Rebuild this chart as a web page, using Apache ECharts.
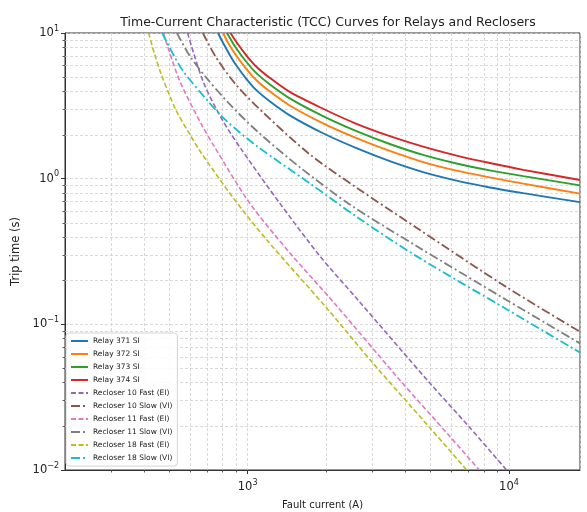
<!DOCTYPE html>
<html><head><meta charset="utf-8">
<script src="https://cdn.jsdelivr.net/npm/echarts@6/dist/echarts.min.js"></script>
<style>html,body{margin:0;padding:0;background:#fff}#c{width:587px;height:512px}</style>
</head><body><div id="c"></div>
<script>
const titleText = 'Time-Current Characteristic (TCC) Curves for Relays and Reclosers';
const xName = 'Fault current (A)';
const yName = 'Trip time (s)';
const X_MIN = 200, X_MAX = 18700, Y_MIN = 0.01, Y_MAX = 10;

const seriesNames = ['Relay 371 SI','Relay 372 SI','Relay 373 SI','Relay 374 SI',
  'Recloser 10 Fast (EI)','Recloser 10 Slow (VI)','Recloser 11 Fast (EI)','Recloser 11 Slow (VI)',
  'Recloser 18 Fast (EI)','Recloser 18 Slow (VI)'];
const seriesColors = ['#1f77b4','#ff7f0e','#2ca02c','#d62728','#9467bd','#8c564b','#e377c2','#7f7f7f','#bcbd22','#17becf'];
const seriesKinds = ['solid','solid','solid','solid','dash','dashdot','dash','dashdot','dash','dashdot'];

// [current (A), trip time (s)]
const relay371 = [[770,10],[804,8.6],[853,7.1],[904,6.0],[988,4.85],[1080,4.05],[1214,3.4],[1449,2.72],[1943,2.05],[2609,1.62],[3499,1.32],[4694,1.11],[6302,0.97],[8453,0.87],[11340,0.795],[18700,0.69]];
const relay372 = [[805,10],[853,8.2],[904,7.0],[988,5.67],[1080,4.74],[1214,3.98],[1449,3.18],[1943,2.4],[2609,1.9],[3499,1.55],[4694,1.3],[6302,1.135],[8453,1.02],[11340,0.925],[18700,0.79]];
const relay373 = [[832,10],[853,9.3],[904,7.86],[988,6.35],[1080,5.3],[1214,4.45],[1449,3.56],[1943,2.69],[2609,2.12],[3499,1.73],[4694,1.455],[6302,1.27],[8453,1.14],[11340,1.04],[18700,0.90]];
const relay374 = [[860,10],[904,8.7],[988,7.03],[1080,5.87],[1214,4.93],[1449,3.94],[1943,3.02],[2609,2.38],[3499,1.96],[4694,1.66],[6302,1.44],[8453,1.28],[11340,1.15],[18700,0.98]];
const rec10Fast = [[589,10],[674,4.7],[793,2.6],[946,1.59],[1326,0.68],[1888,0.295],[2609,0.151],[4980,0.0395],[7090,0.0195],[9790,0.01]];
const rec10Slow = [[674,10],[757,6.8],[904,4.4],[1145,2.85],[1728,1.47],[2609,0.868],[4425,0.461],[9790,0.18],[18700,0.089]];
const rec11Fast = [[476,10],[549,4.71],[665,2.37],[747,1.65],[1018,0.68],[1449,0.31],[2123,0.143],[3819,0.0415],[5942,0.017],[7700,0.01]];
const rec11Slow = [[536,10],[600,6.98],[693,4.96],[853,3.25],[1080,2.14],[1582,1.2],[2460,0.666],[4425,0.345],[9790,0.147],[18700,0.074]];
const rec18Fast = [[418,10],[440,7.2],[467,5.2],[495,4.0],[533,2.93],[600,2.02],[655,1.56],[879,0.741],[1179,0.383],[2002,0.130],[3020,0.054],[4980,0.0195],[6890,0.01]];
const rec18Slow = [[471,10],[518,7.17],[565,5.51],[695,3.5],[828,2.5],[1080,1.685],[1728,0.93],[2642,0.54],[4425,0.294],[9790,0.127],[18700,0.064]];
const seriesData = [relay371,relay372,relay373,relay374,rec10Fast,rec10Slow,rec11Fast,rec11Slow,rec18Fast,rec18Slow];

const minorX = [];
[100,1000,10000].forEach(d => { for (let k = 2; k <= 9; k++) { const v = k*d; if (v > X_MIN && v < X_MAX) minorX.push(v); } });
const minorY = [];
[0.01,0.1,1].forEach(d => { for (let k = 2; k <= 9; k++) minorY.push(+(k*d).toFixed(4)); });
const gridData = minorX.map(v => [v, 1, 0]).concat(minorY.map(v => [1000, v, 1]));

function supLabel(v) {
  const e = Math.round(Math.log10(v));
  const s = e < 0 ? '\u2212' + (-e) : '' + e;
  return '{b|10}{s|' + s + '}';
}
const richLab = {
  b: {fontSize: 11.5, color: '#222', fontFamily: 'DejaVu Sans'},
  s: {fontSize: 8, color: '#222', fontFamily: 'DejaVu Sans', padding: [0,0,9,0]}
};
const gridColor = '#cfcfcf';

const lineSeries = seriesNames.map((n, i) => {
  const kind = seriesKinds[i];
  let type = 'solid', width = 1.9;
  if (kind === 'dash') { type = [5, 2.5]; width = 1.6; }
  if (kind === 'dashdot') { type = [9, 3, 2, 3]; width = 1.8; }
  return {
    type: 'line', name: n, data: seriesData[i], showSymbol: false, symbol: 'none',
    smooth: 0.3, clip: true, z: 5,
    lineStyle: {color: seriesColors[i], width: width, type: type},
    itemStyle: {color: seriesColors[i]}
  };
});

const option = {
  animation: false,
  backgroundColor: '#fff',
  title: {text: titleText, left: 323, top: 11, textAlign: 'center',
    textStyle: {fontSize: 12.5, fontWeight: 'normal', color: '#222', fontFamily: 'DejaVu Sans'}},
  grid: {left: 65, right: 7, top: 33, bottom: 42, containLabel: false, outerBoundsMode: 'none',
    show: true, borderColor: '#333', borderWidth: 1, backgroundColor: 'transparent'},
  legend: {orient: 'vertical', left: 66, top: 333, itemWidth: 17, itemHeight: 8, itemGap: 5,
    padding: [4,5,4,4], backgroundColor: 'rgba(255,255,255,0.85)', borderColor: '#d4d4d4', borderWidth: 1, borderRadius: 3,
    itemStyle: {opacity: 0},
    textStyle: {fontSize: 7.5, color: '#222', fontFamily: 'DejaVu Sans', lineHeight: 8},
    data: seriesNames},
  xAxis: {type: 'log', logBase: 10, min: X_MIN, max: X_MAX,
    name: xName, nameLocation: 'middle', nameGap: 30,
    nameTextStyle: {fontSize: 10, color: '#222', fontFamily: 'DejaVu Sans'},
    axisLine: {show: true, lineStyle: {color: '#333', width: 1}},
    axisTick: {show: true, length: 4, lineStyle: {color: '#333'}},
    axisLabel: {showMinLabel: false, showMaxLabel: false, margin: 9, formatter: supLabel, rich: richLab},
    splitLine: {show: true, lineStyle: {color: gridColor, type: [3,2], width: 0.8}},
    minorTick: {show: false}, minorSplitLine: {show: false}},
  yAxis: {type: 'log', logBase: 10, min: Y_MIN, max: Y_MAX,
    name: yName, nameLocation: 'middle', nameGap: 31,
    nameTextStyle: {fontSize: 11.5, color: '#222', fontFamily: 'DejaVu Sans'},
    axisLine: {show: true, lineStyle: {color: '#333', width: 1}},
    axisTick: {show: true, length: 4, lineStyle: {color: '#333'}},
    axisLabel: {margin: 6, formatter: supLabel, rich: richLab},
    splitLine: {show: true, lineStyle: {color: gridColor, type: [3,2], width: 0.8}},
    minorTick: {show: false}, minorSplitLine: {show: false}},
  series: [{
    type: 'custom', name: 'minorGrid', silent: true, z: 1, data: gridData,
    dimensions: ['x','y','k'], encode: {x: 0, y: 1},
    renderItem: function (params, api) {
      const cs = params.coordSys;
      const k = api.value(2);
      if (k === 0) {
        const p = api.coord([api.value(0), 1]);
        const x = Math.round(p[0]) + 0.5;
        return {type: 'group', children: [
          {type: 'line', shape: {x1: x, y1: cs.y, x2: x, y2: cs.y + cs.height}, style: {stroke: gridColor, lineWidth: 0.8, lineDash: [3,2]}},
          {type: 'line', shape: {x1: x, y1: cs.y + cs.height, x2: x, y2: cs.y + cs.height + 2.5}, style: {stroke: '#333', lineWidth: 0.8}}
        ]};
      }
      const p = api.coord([1000, api.value(1)]);
      const y = Math.round(p[1]) + 0.5;
      return {type: 'group', children: [
        {type: 'line', shape: {x1: cs.x, y1: y, x2: cs.x + cs.width, y2: y}, style: {stroke: gridColor, lineWidth: 0.8, lineDash: [3,2]}},
        {type: 'line', shape: {x1: cs.x - 2.5, y1: y, x2: cs.x, y2: y}, style: {stroke: '#333', lineWidth: 0.8}}
      ]};
    }
  }].concat(lineSeries)
};
const chart = echarts.init(document.getElementById('c'));
chart.setOption(option);
</script></body></html>
